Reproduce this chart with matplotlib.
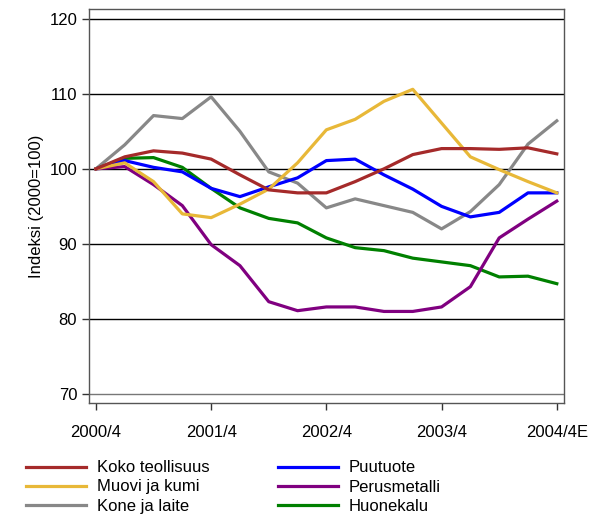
import numpy as np
import matplotlib.pyplot as plt
from matplotlib.lines import Line2D

plt.rcParams['font.family'] = ['Liberation Sans', 'DejaVu Sans']

quarters = np.arange(17)
tick_pos = [0, 4, 8, 12, 16]
tick_labels = ["2000/4", "2001/4", "2002/4", "2003/4", "2004/4E"]

koko = [100, 101.6, 102.4, 102.1, 101.3, 99.2, 97.2, 96.8, 96.8, 98.3, 100.0, 101.9, 102.7, 102.7, 102.6, 102.8, 102.0]
muovi = [100, 100.8, 98.3, 94.0, 93.5, 95.3, 97.3, 100.8, 105.2, 106.6, 109.0, 110.6, 106.1, 101.6, 99.9, 98.3, 96.8]
kone = [100, 103.2, 107.1, 106.7, 109.6, 105.0, 99.6, 98.1, 94.8, 96.0, 95.1, 94.2, 92.0, 94.3, 97.9, 103.3, 106.4]
puu = [100, 101.1, 100.2, 99.6, 97.4, 96.3, 97.6, 98.8, 101.1, 101.3, 99.2, 97.3, 95.0, 93.6, 94.2, 96.8, 96.8]
perus = [100, 100.3, 97.9, 95.1, 89.9, 87.1, 82.3, 81.1, 81.6, 81.6, 81.0, 81.0, 81.6, 84.3, 90.8, 93.3, 95.7]
huone = [100, 101.4, 101.5, 100.2, 97.4, 94.8, 93.4, 92.8, 90.8, 89.5, 89.1, 88.1, 87.6, 87.1, 85.6, 85.7, 84.7]

names = ["Koko teollisuus", "Muovi ja kumi", "Kone ja laite", "Puutuote", "Perusmetalli", "Huonekalu"]
colors = ["#a52a2a", "#e8b838", "#888888", "#0000ff", "#800080", "#008000"]
series = [koko, muovi, kone, puu, perus, huone]

fig = plt.figure(figsize=(6.03, 5.15), dpi=100)
ax = fig.add_axes([89/603, 1-403/515, (564-89)/603, (403-9)/515])

for yv in [80, 90, 100, 110, 120]:
    ax.axhline(yv, color="black", lw=1.0, zorder=1)
ax.axhline(70, color="#777777", lw=1.0, zorder=1)

# draw order so that overlaps look like the original
order = [2, 5, 4, 3, 1, 0]
for k in order:
    ax.plot(quarters, series[k], color=colors[k], lw=2.3, zorder=3)

ax.set_xlim(-0.24, 16.25)
ax.set_ylim(68.8, 121.3)
ax.set_yticks([70, 80, 90, 100, 110, 120])
ax.set_xticks(tick_pos)
ax.set_xticklabels(tick_labels)
ax.tick_params(axis='both', labelsize=12, color="#333333", length=5, width=1)
ax.tick_params(axis='x', pad=11)
ax.set_ylabel("Indeksi (2000=100)", fontsize=12)
for s in ax.spines.values():
    s.set_color("#555555")
    s.set_linewidth(1)

handles = [Line2D([0], [0], color=colors[k], lw=2.3) for k in range(6)]
fig.legend(handles, names, loc="upper left", bbox_to_anchor=(18/603, 1-452/515),
           ncol=2, frameon=False, fontsize=12, handlelength=3.6,
           labelspacing=0.25, columnspacing=4.1, handletextpad=0.65, borderpad=0)

fig.savefig("out.png", dpi=100)
